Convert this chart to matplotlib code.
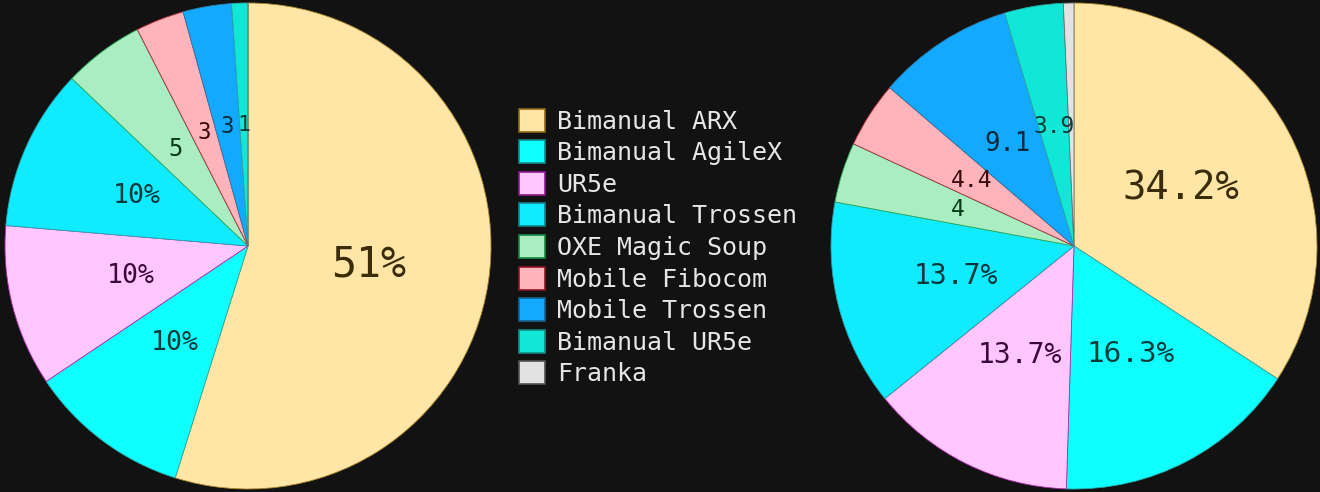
import colorsys
import numpy as np
import matplotlib
matplotlib.use("Agg")
import matplotlib.pyplot as plt
import matplotlib.colors as mcolors
from matplotlib.patches import Patch

# data
names = ["Bimanual ARX", "Bimanual AgileX", "UR5e", "Bimanual Trossen",
         "OXE Magic Soup", "Mobile Fibocom", "Mobile Trossen",
         "Bimanual UR5e", "Franka"]
left_vals = [51, 10, 10, 10, 5, 3, 3, 1, 0]
right_vals = [34.2, 16.3, 13.7, 13.7, 4.0, 4.4, 9.1, 3.9, 0.7]
colors = ["#FFE6A6", "#0FFFFF", "#FFC6FF", "#10EBFF", "#A9EDC1",
          "#FFB3BA", "#13A9FF", "#12E6D6", "#E2E2E2"]

bg = "#121212"
plt.rcParams['font.family'] = ['DejaVu Sans Mono', 'DejaVu Sans']


def shade(c, light, sat=0.85):
    r, g, b = mcolors.to_rgb(c)
    h, l, s = colorsys.rgb_to_hls(r, g, b)
    if s < 0.05:
        sat = 0.0
    return colorsys.hls_to_rgb(h, light, sat)


edge_cols = [shade(c, 0.42, 0.6) for c in colors]
leg_edges = [shade(c, 0.32, 0.7) for c in colors]
text_cols = [shade(c, 0.13, 0.75) for c in colors]


def label_for(v):
    if v < 1:
        return ""
    s = f"{v:g}"
    return s + "%" if v >= 10 else s


def draw_pie(ax, vals):
    wedges, _ = ax.pie(vals, colors=colors, startangle=90, counterclock=False,
                       wedgeprops=dict(linewidth=0.6))
    total = float(sum(vals))
    for w, ec in zip(wedges, edge_cols):
        w.set_edgecolor(ec)
        w.set_clip_on(False)
    for w, v, tc in zip(wedges, vals, text_cols):
        txt = label_for(v)
        if not txt:
            continue
        ang = np.deg2rad((w.theta1 + w.theta2) / 2)
        frac = v / total
        fs = min(30, 15 + 38 * frac)
        ax.text(0.5 * np.cos(ang), 0.5 * np.sin(ang), txt, ha='center',
                va='center', fontsize=fs, color=tc)
    ax.set_xlim(-1, 1)
    ax.set_ylim(-1, 1)
    ax.set_aspect('equal')
    ax.axis('off')


fig = plt.figure(figsize=(13.2, 4.92), dpi=100, facecolor=bg)
W, H = 1320.0, 492.0
ax1 = fig.add_axes([5 / W, 3 / H, 486 / W, 486 / H])
ax2 = fig.add_axes([831 / W, 3 / H, 486 / W, 486 / H])
draw_pie(ax1, left_vals)
draw_pie(ax2, right_vals)

handles = [Patch(facecolor=c, edgecolor=e, linewidth=1.2)
           for c, e in zip(colors, leg_edges)]
leg = fig.legend(handles, names, loc='center left',
                 bbox_to_anchor=(519 / W, 0.497), frameon=False,
                 fontsize=18, handlelength=1.04, handleheight=1.04,
                 handletextpad=0.48, labelspacing=0.26, borderpad=0,
                 borderaxespad=0)
for t in leg.get_texts():
    t.set_color("#E6E6E6")

fig.savefig("out.png", facecolor=bg)
